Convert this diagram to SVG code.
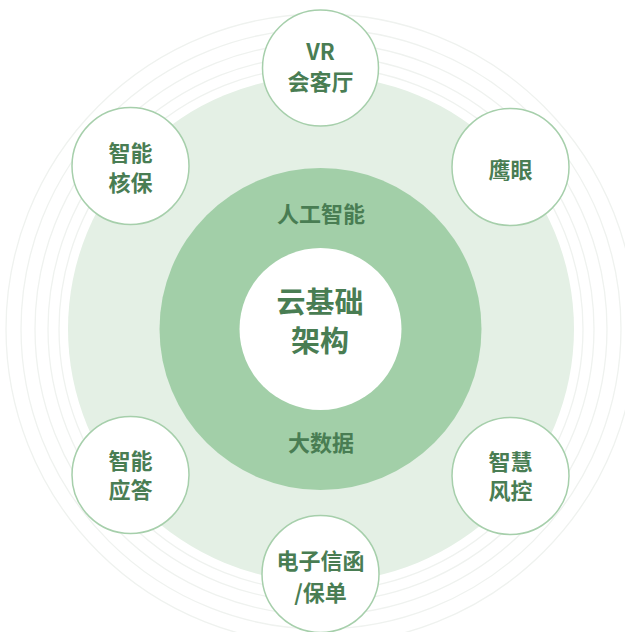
<svg xmlns="http://www.w3.org/2000/svg" width="625" height="632" viewBox="0 0 625 632">
<style>
.ring{fill:none;stroke:#eff2ef;stroke-width:1.3}
.node circle{fill:#ffffff;stroke:#a6cfab;stroke-width:1.5}
.t{font-family:"Noto Sans CJK SC","Noto Sans",sans-serif;font-weight:700;fill:#497d53;text-anchor:middle;dominant-baseline:central}
.n{font-size:22px}
</style>
<rect width="625" height="632" fill="#ffffff"/>
<g id="background">
<circle class="ring" cx="321" cy="329" r="262"/>
<circle class="ring" cx="321" cy="329" r="273"/>
<circle class="ring" cx="321" cy="329" r="286"/>
<circle class="ring" cx="321" cy="329" r="300"/>
<circle class="ring" cx="321" cy="329" r="315" stroke="#f4f6f4"/>
<circle cx="321" cy="329" r="253" fill="#e4f0e5"/>
</g>
<g id="core">
<circle cx="320.5" cy="329" r="161" fill="#a2cfa8"/>
<circle cx="320.5" cy="329" r="81" fill="#ffffff"/>
<text class="t" x="321" y="212" font-size="22">人工智能</text>
<text class="t" x="321" y="441" font-size="22">大数据</text>
<text class="t" x="320" y="300" font-size="29">云基础</text>
<text class="t" x="320" y="339" font-size="29">架构</text>
</g>
<g id="connectors"/>
<g id="node-vr" class="node">
<circle cx="320.5" cy="68" r="58"/>
<text class="t n" x="320.5" y="50">VR</text>
<text class="t n" x="320.5" y="80">会客厅</text>
</g>
<g id="node-yingyan" class="node">
<circle cx="510.5" cy="167" r="58.5"/>
<text class="t n" x="510.5" y="168">鹰眼</text>
</g>
<g id="node-hebao" class="node">
<circle cx="130.5" cy="166" r="58.5"/>
<text class="t n" x="130.5" y="151">智能</text>
<text class="t n" x="130.5" y="181">核保</text>
</g>
<g id="node-yingda" class="node">
<circle cx="130.5" cy="475" r="58.5"/>
<text class="t n" x="130.5" y="459">智能</text>
<text class="t n" x="130.5" y="488">应答</text>
</g>
<g id="node-fengkong" class="node">
<circle cx="510.5" cy="476" r="58.5"/>
<text class="t n" x="510.5" y="460">智慧</text>
<text class="t n" x="510.5" y="489">风控</text>
</g>
<g id="node-hanjian" class="node">
<circle cx="320.5" cy="574" r="58.5"/>
<text class="t n" x="320.5" y="559">电子信函</text>
<text class="t n" x="320.5" y="591">/保单</text>
</g>
</svg>
